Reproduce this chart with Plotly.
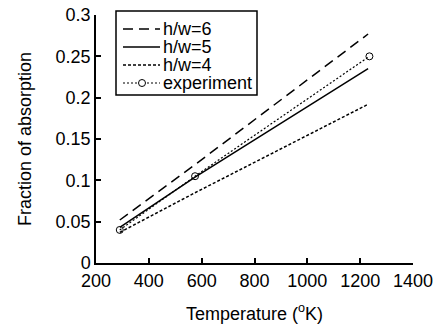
import plotly.graph_objects as go

temp_model = [290, 575, 1230]
hw6 = [0.052, 0.119, 0.277]
hw5 = [0.043, 0.104, 0.235]
hw4 = [0.037, 0.085, 0.192]
temp_exp = [290, 575, 1235]
experiment = [0.040, 0.105, 0.250]

x_ticks = [200, 400, 600, 800, 1000, 1200, 1400]
y_ticks = [0, 0.05, 0.1, 0.15, 0.2, 0.25, 0.3]
y_tick_labels = ["0", "0.05", "0.1", "0.15", "0.2", "0.25", "0.3"]
series_names = ["h/w=6", "h/w=5", "h/w=4", "experiment"]

W, H = 441, 329
L, R, T, B = 96, 28, 15, 66
PW, PH = W - L - R, H - T - B
FONT = "Liberation Sans, Arial, Helvetica, sans-serif"


def px(x):
    return (x - L) / PW


def py(y):
    return (H - B - y) / PH


styles = [
    dict(color="black", width=1.5, dash="10px,6px"),
    dict(color="black", width=1.5),
    dict(color="black", width=1.5, dash="3px,2px"),
    dict(color="black", width=1.2, dash="2px,2px"),
]

fig = go.Figure()
fig.add_trace(go.Scatter(x=temp_model, y=hw6, mode="lines", name=series_names[0], line=styles[0]))
fig.add_trace(go.Scatter(x=temp_model, y=hw5, mode="lines", name=series_names[1], line=styles[1]))
fig.add_trace(go.Scatter(x=temp_model, y=hw4, mode="lines", name=series_names[2], line=styles[2]))
fig.add_trace(go.Scatter(x=temp_exp, y=experiment, mode="lines+markers", name=series_names[3],
                         line=styles[3],
                         marker=dict(symbol="circle-open", size=7, color="black", line=dict(width=1))))

# Legend box drawn by hand (to match the compact row spacing of the original)
shapes = [dict(type="rect", xref="paper", yref="paper", x0=px(116), x1=px(257),
               y0=py(95), y1=py(11), line=dict(color="black", width=1.5),
               fillcolor="white", layer="above")]
annotations = []
row_y = [29, 47, 65, 83]
for name, st, ry in zip(series_names, styles, row_y):
    shapes.append(dict(type="line", xref="paper", yref="paper", x0=px(123), x1=px(160),
                       y0=py(ry), y1=py(ry), line=st, layer="above"))
    annotations.append(dict(text=name, xref="paper", yref="paper", x=px(160.5), y=py(ry),
                            xanchor="left", yanchor="middle", showarrow=False,
                            font=dict(family=FONT, size=18, color="black")))
shapes.append(dict(type="circle", xref="paper", yref="paper",
                   x0=px(138.5), x1=px(145.5), y0=py(row_y[3] + 3.5), y1=py(row_y[3] - 3.5),
                   line=dict(color="black", width=1), fillcolor="white", layer="above"))

annotations.append(dict(text="Temperature (<sup>o</sup>K)", xref="paper", yref="paper",
                        x=0.5, y=py(312), xanchor="center", yanchor="middle", showarrow=False,
                        font=dict(family=FONT, size=18, color="black")))
annotations.append(dict(text="Fraction of absorption", xref="paper", yref="paper",
                        x=px(25), y=0.5, xanchor="center", yanchor="middle", showarrow=False,
                        textangle=-90, font=dict(family=FONT, size=18, color="black")))

fig.update_layout(
    width=W, height=H,
    margin=dict(l=L, r=R, t=T, b=B, autoexpand=False),
    paper_bgcolor="white", plot_bgcolor="white",
    font=dict(family=FONT, size=18, color="black"),
    showlegend=False,
    shapes=shapes,
    annotations=annotations,
    xaxis=dict(range=[200, 1400], tickvals=x_ticks, ticks="inside", ticklen=5,
               tickwidth=1.5, tickcolor="black", showline=True, linecolor="black",
               linewidth=1.5, showgrid=False, zeroline=False, ticklabelstandoff=1,
               tickfont=dict(size=18)),
    yaxis=dict(range=[0, 0.3], tickvals=y_ticks, ticktext=y_tick_labels, ticks="inside",
               ticklen=5, tickwidth=1.5, tickcolor="black", showline=True,
               linecolor="black", linewidth=1.5, showgrid=False, zeroline=False,
               tickfont=dict(size=18)),
)

fig.write_html("out.html", config={"displayModeBar": False},
               post_script="document.body.style.margin='0';")
